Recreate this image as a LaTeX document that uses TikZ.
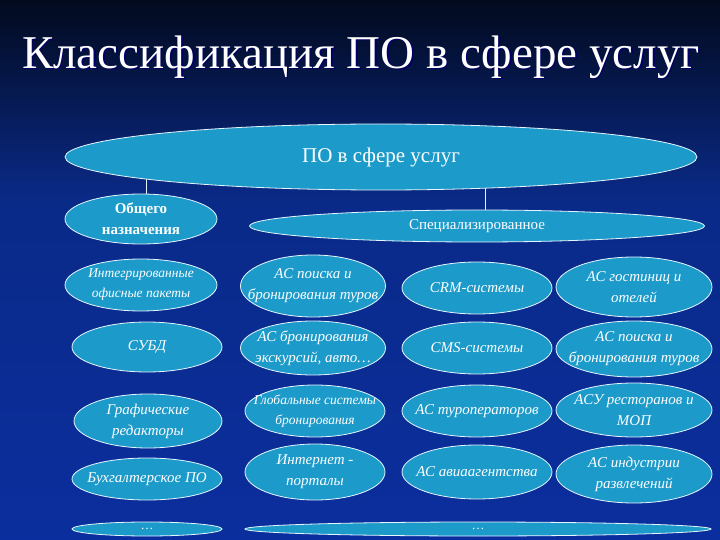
\documentclass[tikz,border=0pt]{standalone}
\usepackage{fontspec}
\setmainfont{Liberation Serif}
\usetikzlibrary{shapes.geometric}
\definecolor{bgtop}{HTML}{020A1E}
\definecolor{bgmid}{HTML}{0A2A88}
\definecolor{bgbot}{HTML}{0B2E9E}
\definecolor{oval}{HTML}{1C9ACA}
\definecolor{ovline}{HTML}{E6F6FF}
\pgfdeclarelayer{bglayer}
\pgfdeclarelayer{edgelayer}
\pgfsetlayers{bglayer,edgelayer,main}
\tikzset{
  ov/.style 2 args={ellipse, draw=ovline, line width=0.8pt, fill=oval,
    minimum width=#1, minimum height=#2, inner sep=-40pt, text=white, align=center},
  it/.style={font=\fontsize{15}{21}\selectfont\itshape},
  itsmall/.style={font=\fontsize{13.5}{20}\selectfont\itshape},
  conn/.style={draw=ovline, line width=0.8pt}
}
\begin{document}
\begin{tikzpicture}[x=1pt,y=-1pt]
\useasboundingbox (0,0) rectangle (720,540);
\begin{pgfonlayer}{bglayer}
\shade[top color=bgtop, bottom color=bgmid] (0,0) rectangle (720,200);
\shade[top color=bgmid, bottom color=bgbot] (0,200) rectangle (720,540);
\end{pgfonlayer}
\node[text=black!60!blue, font=\fontsize{47}{52}\selectfont] at (362.5,58.5) {Классификация ПО в сфере услуг};
\node[text=white, font=\fontsize{47}{52}\selectfont] (title) at (361,57) {Классификация ПО в сфере услуг};
\node[ov={632pt}{66pt}, font=\fontsize{21}{24}\selectfont] (root) at (381,157) {ПО в сфере услуг};
\node[ov={152pt}{50pt}, font=\fontsize{15}{21}\selectfont\bfseries] (gen) at (141,219) {Общего\\назначения};
\node[ov={455pt}{32pt}, font=\fontsize{15}{18}\selectfont] (spec) at (477,226) {Специализированное};
\begin{pgfonlayer}{edgelayer}
\draw[conn] ([xshift=5pt]gen.north) -- ([xshift=5pt]gen.north |- root.center);
\draw[conn] ([xshift=8pt]spec.north) -- ([xshift=8pt]spec.north |- root.center);
\end{pgfonlayer}
% row 1
\node[ov={152pt}{52pt}, itsmall] (a1) at (141,285) {Интегрированные\\офисные пакеты};
\node[ov={145pt}{62pt}, it] (b1) at (313,286) {АС поиска и\\бронирования туров};
\node[ov={150pt}{52pt}, it] (c1) at (477,288) {CRM-системы};
\node[ov={156pt}{60pt}, it] (d1) at (634,287) {АС гостиниц и\\отелей};
% row 2
\node[ov={150pt}{50pt}, it] (a2) at (147,347) {СУБД};
\node[ov={145pt}{54pt}, it] (b2) at (313,348) {АС бронирования\\экскурсий, авто…};
\node[ov={150pt}{52pt}, it] (c2) at (477,348) {CMS-системы};
\node[ov={156pt}{56pt}, it] (d2) at (634,349) {АС поиска и\\бронирования туров};
% row 3
\node[ov={148pt}{54pt}, it] (a3) at (148,421) {Графические\\редакторы};
\node[ov={140pt}{52pt}, itsmall] (b3) at (315,411) {Глобальные системы\\бронирования};
\node[ov={150pt}{52pt}, it] (c3) at (477,411) {АС туроператоров};
\node[ov={156pt}{54pt}, it] (d3) at (634,410) {АСУ ресторанов и\\МОП};
% row 4
\node[ov={150pt}{42pt}, it] (a4) at (147,479) {Бухгалтерское ПО};
\node[ov={140pt}{56pt}, it] (b4) at (315,472) {Интернет -\\порталы};
\node[ov={150pt}{54pt}, it] (c4) at (477,472) {АС авиаагентства};
\node[ov={156pt}{58pt}, it] (d4) at (634,474) {АС индустрии\\развлечений};
% row 5
\node[ov={150pt}{14pt}, font=\fontsize{13}{13}\selectfont] (a5) at (147,529) {…};
\node[ov={466pt}{14pt}, font=\fontsize{13}{13}\selectfont] (b5) at (478,529) {…};
\end{tikzpicture}
\end{document}
